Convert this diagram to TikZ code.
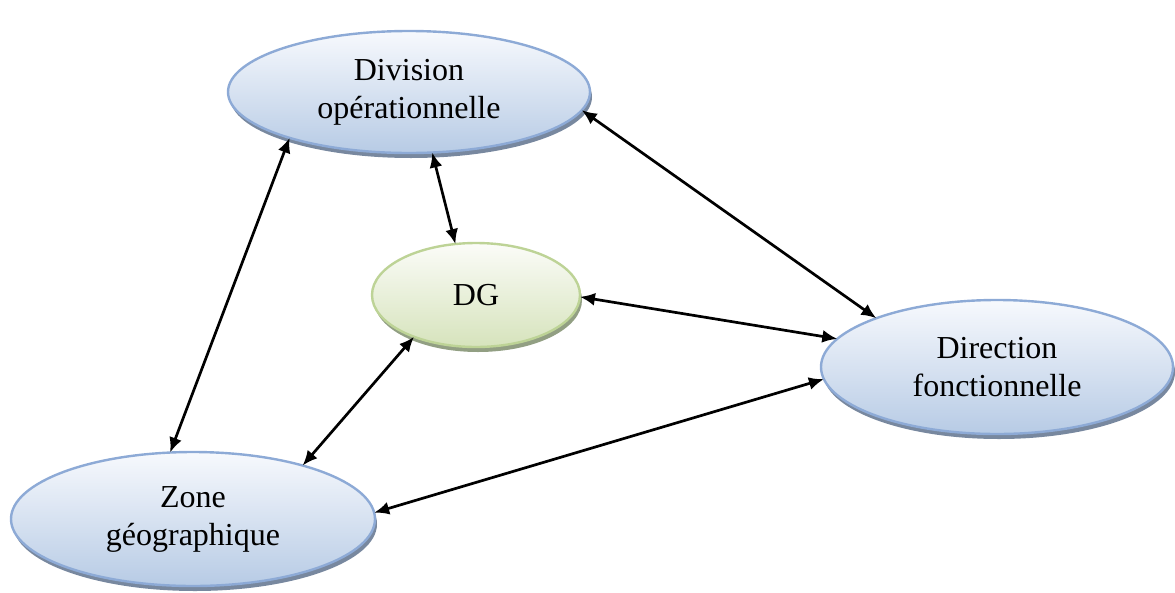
\documentclass[tikz,border=0pt]{standalone}
\usepackage{fontspec}
\setmainfont{Liberation Serif}
\usetikzlibrary{shapes.geometric,arrows.meta,shadows}
\definecolor{bluetop}{HTML}{F7F9FD}
\definecolor{bluebot}{HTML}{B7CBE5}
\definecolor{blueline}{HTML}{8DAAD6}
\definecolor{blueshadow}{HTML}{78889F}
\definecolor{greentop}{HTML}{FBFCF8}
\definecolor{greenbot}{HTML}{D6E3BC}
\definecolor{greenline}{HTML}{BDD396}
\definecolor{greenshadow}{HTML}{929F83}
\tikzset{
  bubble/.style={ellipse, inner sep=0pt, outer sep=0pt, line width=2.4pt,
    align=center, font=\fontsize{32}{38}\selectfont},
  bluebubble/.style={bubble, draw=blueline, top color=bluetop, bottom color=bluebot,
    drop shadow={shadow xshift=2pt, shadow yshift=-5pt, fill=blueshadow, opacity=1}},
  greenbubble/.style={bubble, draw=greenline, top color=greentop, bottom color=greenbot,
    drop shadow={shadow xshift=2pt, shadow yshift=-5pt, fill=greenshadow, opacity=1}},
  link/.style={line width=2.7pt, {Latex[length=15pt,width=13pt]}-{Latex[length=15pt,width=13pt]}}
}
\begin{document}
\begin{tikzpicture}[x=1pt,y=1pt]
  \useasboundingbox (0,0) rectangle (1175,-592);

  \node[bluebubble, minimum width=362pt, minimum height=122pt] (div) at (409,-92) {Division\\op\'erationnelle};
  \node[greenbubble, minimum width=208pt, minimum height=104pt] (dg) at (476,-295) {DG};
  \node[bluebubble, minimum width=352pt, minimum height=134pt] (dir) at (997,-367) {Direction\\fonctionnelle};
  \node[bluebubble, minimum width=364pt, minimum height=134pt] (zone) at (193,-519) {Zone\\g\'eographique};

  \draw[link] (div.-6.6) -- (dir.158);
  \draw[link] (div.-69) -- (dg.112);
  \draw[link] (div.-159) -- (zone.109);
  \draw[link] (dg.-1) -- (dir.170);
  \draw[link] (dg.-146) -- (zone.26);
  \draw[link] (zone.2.5) -- (dir.-176);
\end{tikzpicture}
\end{document}
